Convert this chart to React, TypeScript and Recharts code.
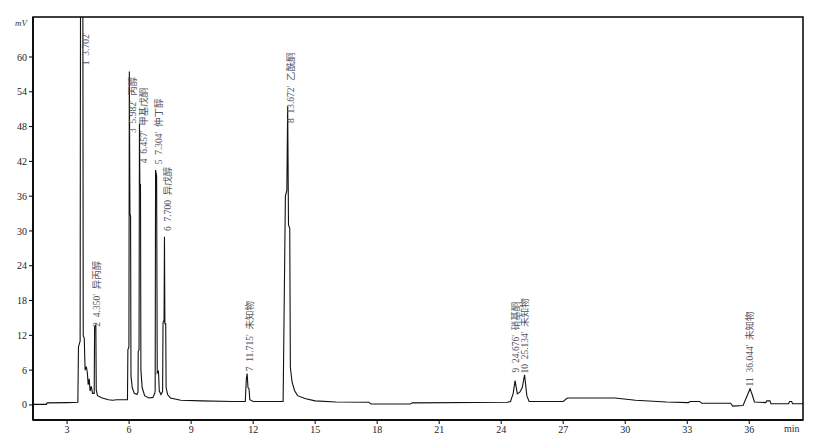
import React from "react";
import { ComposedChart, Line, Scatter, XAxis, YAxis, ReferenceArea } from "recharts";

// chromatogram trace (time in min, signal in mV)
const times = [
  1.35, 2.0, 2.04, 3.0, 3.52, 3.55, 3.63, 3.65, 3.76, 3.78, 3.83, 3.87, 3.93, 3.98, 4.02, 4.07, 4.11, 4.17, 4.23,
  4.31, 4.33, 4.39, 4.41, 4.47, 4.7, 5.0, 5.2, 5.4, 5.92, 5.94, 5.99, 6.01, 6.04, 6.07, 6.09, 6.15, 6.25, 6.38,
  6.43, 6.44, 6.48, 6.5, 6.52, 6.55, 6.57, 6.63, 6.75, 6.95, 7.15, 7.24, 7.26, 7.28, 7.33, 7.36, 7.42, 7.46,
  7.54, 7.62, 7.64, 7.69, 7.71, 7.73, 7.77, 7.79, 7.86, 8.0, 8.5, 9.5, 11.0, 11.62, 11.67, 11.71, 11.75, 11.8,
  11.84, 12.0, 13.45, 13.56, 13.63, 13.67, 13.71, 13.77, 13.8, 13.88, 14.0, 14.15, 14.5, 15.0, 16.0, 17.6, 17.7,
  19.6, 19.7, 24.3, 24.45, 24.58, 24.67, 24.78, 24.9, 25.02, 25.13, 25.24, 25.35, 27.0, 27.2, 29.5, 30.5, 32.0,
  33.05, 33.15, 33.6, 33.7, 35.1, 35.2, 35.7, 35.95, 36.04, 36.14, 36.25, 36.8, 36.85, 37.0, 37.05, 37.9, 37.95,
  38.05, 38.1, 38.6,
];
const signal = [
  0.1, 0.1, 0.35, 0.4, 0.45, 10, 11, 75, 75, 12, 11.5, 6, 6.6, 5.5, 3.5, 4.5, 2.4, 3.2, 2,
  2, 13.5, 13.8, 2.6, 1.6, 1.2, 0.9, 0.8, 0.9, 0.9, 9.5, 10, 57.5, 33, 32.5, 5, 3, 2, 1.8,
  2.2, 9.2, 9.5, 48.5, 38, 38, 6, 3, 1.6, 1.2, 1.3, 2, 2.4, 40.5, 39.5, 5.5, 5.8, 2.4,
  1.8, 2.3, 14.2, 14.6, 29, 14, 14, 3, 1.8, 1.2, 0.8, 0.7, 0.6, 0.6, 4.5, 5.4, 3, 2.8,
  0.9, 0.6, 0.6, 36, 37, 51.5, 31, 30.5, 6.5, 4, 2.5, 1.6, 1.1, 0.7, 0.5, 0.45, 0.15,
  0.15, 0.35, 0.45, 0.6, 2, 4.2, 1.9, 2.2, 3, 5.2, 1.6, 0.6, 0.6, 1.2, 1.2, 0.8, 0.5,
  0.4, 0.6, 0.6, 0.3, 0.3, -0.2, -0.1, 2, 2.8, 1.8, 0.5, 0.4, 0.7, 0.7, 0.2, 0.2, 0.6,
  0.6, 0.2, 0.2,
];

// peak table
const peakNo = ["1", "2", "3", "4", "5", "6", "7", "8", "9", "10", "11"];
const peakRt = [3.702, 4.35, 5.982, 6.457, 7.304, 7.7, 11.715, 13.672, 24.676, 25.134, 36.044];
const peakRtText = ["3.702'", "4.350'", "5.982'", "6.457'", "7.304'", "7.700", "11.715'", "13.672'", "24.676'", "25.134'", "36.044'"];
const peakName = ["", "异丙醇", "丙醇", "甲基戊酮", "仲丁醇", "异戊醇", "未知物", "乙酰酮", "硝基酮", "未知物", "未知物"];

const xTicks = [3, 6, 9, 12, 15, 18, 21, 24, 27, 30, 33, 36];
const yTicks = [0, 6, 12, 18, 24, 30, 36, 42, 48, 54, 60];

// where each rotated label starts (mV) and its sideways nudge (px)
const labelAt = [58.6, 13.5, 46.9, 41.7, 41.5, 30, 5.8, 48.6, 5.6, 5.4, 3.2];
const labelDx = [4, 2, 4, 5, 3, 4, 3, 3, 1, 0, 0];

const X_MIN = 1.35;
const X_MAX = 38.6;
const Y_MIN = -2.6;
const Y_MAX = 66.9;

const FONT = "'Liberation Serif', 'Noto Sans CJK SC', serif";

const trace = times.map((t, i) => ({ t, mv: signal[i] }));
const labels = peakNo.map((n, i) => ({
  t: peakRt[i],
  y: labelAt[i],
  dx: labelDx[i],
  text: [n, peakRtText[i], peakName[i]].filter(Boolean).join("  "),
}));

function PeakLabel(props: any) {
  const { cx, cy, payload } = props;
  if (cx == null || cy == null) return null;
  const x = cx + payload.dx;
  return (
    <text
      x={x}
      y={cy}
      transform={`rotate(-90 ${x} ${cy})`}
      textAnchor="start"
      dominantBaseline="central"
      fontSize={9.5}
      fontFamily={FONT}
      fill="#555562"
      style={{ whiteSpace: "pre" }}
    >
      {payload.text}
    </text>
  );
}

export default function App() {
  return (
    <div style={{ position: "absolute", left: 0, top: 0, width: 818, height: 440, background: "#fff", fontFamily: FONT }}>
      <ComposedChart width={818} height={440} data={trace} margin={{ top: 17, right: 15, bottom: 0, left: 0 }}>
        <XAxis
          dataKey="t"
          type="number"
          domain={[X_MIN, X_MAX]}
          ticks={xTicks}
          allowDataOverflow
          height={20}
          tickSize={4}
          tickLine={{ stroke: "#000" }}
          axisLine={{ stroke: "#000", strokeWidth: 1.5 }}
          tick={{ fontSize: 10, fill: "#222", fontFamily: FONT }}
        />
        <YAxis
          type="number"
          domain={[Y_MIN, Y_MAX]}
          ticks={yTicks}
          allowDataOverflow
          width={33}
          tickSize={4}
          tickLine={{ stroke: "#000" }}
          axisLine={{ stroke: "#000", strokeWidth: 1.5 }}
          tick={{ fontSize: 10, fill: "#222", fontFamily: FONT }}
        />
        <ReferenceArea x1={X_MIN} x2={X_MAX} y1={Y_MIN} y2={Y_MAX} fill="none" stroke="#000" strokeWidth={1.5} />
        <Line
          dataKey="mv"
          type="linear"
          stroke="#111"
          strokeWidth={1.1}
          dot={false}
          activeDot={false}
          isAnimationActive={false}
        />
        <Scatter data={labels} dataKey="y" shape={PeakLabel} isAnimationActive={false} />
      </ComposedChart>
      <div style={{ position: "absolute", left: 15, top: 18, fontSize: 9, fontStyle: "italic", color: "#333" }}>mV</div>
      <div style={{ position: "absolute", left: 784, top: 423, fontSize: 10, color: "#333" }}>min</div>
    </div>
  );
}
